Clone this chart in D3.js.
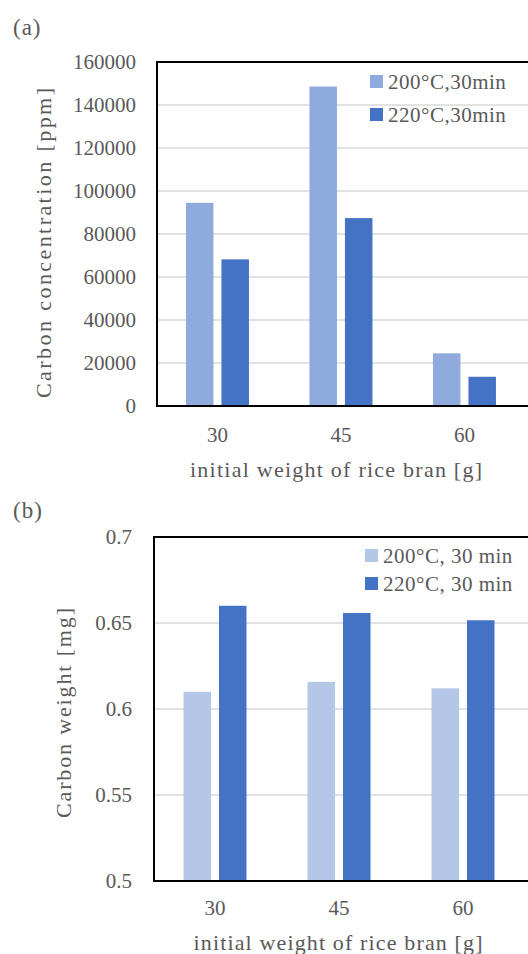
<!DOCTYPE html>
<html>
<head>
<meta charset="utf-8">
<script src="https://cdn.jsdelivr.net/npm/d3@7"></script>
<style>
  body { margin: 0; background: #fff; }
</style>
</head>
<body>
<svg id="chart" width="528" height="954"></svg>
<script>
// data
var weights = ["30", "45", "60"]

var conc_200 = [94500, 148600, 24500]
var conc_220 = [68200, 87400, 13600]
var conc_ticks = [0, 20000, 40000, 60000, 80000, 100000, 120000, 140000, 160000]
var conc_labels = ["200°C,30min", "220°C,30min"]

var mass_200 = [0.610, 0.6158, 0.612]
var mass_220 = [0.660, 0.6558, 0.6516]
var mass_ticks = [0.5, 0.55, 0.6, 0.65, 0.7]
var mass_labels = ["200°C, 30 min", "220°C, 30 min"]

var svg = d3.select("#chart")
var font = "Liberation Serif"
var ink = "#595959"

function add_text(g, size) {
  return g.append("text")
    .attr("font-family", font)
    .attr("font-size", size)
    .attr("fill", ink)
}

function draw_panel(params) {
  g = svg.append("g")

  y = d3.scaleLinear()
    .domain(params.domain)
    .range([params.bottom, params.top])

  x = d3.scaleBand()
    .domain(weights)
    .range([params.band_left, params.band_right])

  // gridlines
  g.selectAll(".grid")
    .data(params.ticks.slice(1))
    .enter().append("line")
    .attr("x1", params.left)
    .attr("x2", 530)
    .attr("y1", d => y(d))
    .attr("y2", d => y(d))
    .attr("stroke", "#d9d9d9")
    .attr("stroke-width", 1.5)

  // bars
  bw = 27.5
  gap = 8
  series = [params.s1, params.s2]
  series.forEach((vals, si) => {
    g.selectAll(".bar" + si)
      .data(vals)
      .enter().append("rect")
      .attr("x", (d, i) => x(weights[i]) + x.bandwidth() / 2 - bw - gap / 2 + si * (bw + gap))
      .attr("width", bw)
      .attr("y", d => y(d))
      .attr("height", d => params.bottom - y(d))
      .attr("fill", params.colors[si])
  })

  // frame (right side runs off the page)
  g.append("path")
    .attr("d", `M530,${params.top}H${params.left}V${params.bottom}H530`)
    .attr("fill", "none")
    .attr("stroke", "#000")
    .attr("stroke-width", 2)

  // y tick labels
  params.ticks.forEach(t => {
    add_text(g, 21)
      .attr("x", params.tick_x)
      .attr("y", y(t) + 7)
      .attr("text-anchor", "end")
      .text(params.fmt(t))
  })

  // x tick labels
  weights.forEach(w => {
    add_text(g, 21)
      .attr("x", x(w) + x.bandwidth() / 2)
      .attr("y", params.xtick_y)
      .attr("text-anchor", "middle")
      .text(w)
  })

  add_text(g, 22)
    .attr("x", params.xtitle_x)
    .attr("y", params.xtitle_y)
    .attr("text-anchor", "middle")
    .attr("textLength", params.xtitle_len)
    .attr("lengthAdjust", "spacing")
    .text("initial weight of rice bran [g]")

  add_text(g, 22)
    .attr("transform", `translate(${params.ytitle_x},${params.ytitle_y}) rotate(-90)`)
    .attr("text-anchor", "middle")
    .attr("textLength", params.ytitle_len)
    .attr("lengthAdjust", "spacing")
    .text(params.ytitle)

  add_text(g, 23)
    .attr("x", 13)
    .attr("y", params.tag_y)
    .attr("letter-spacing", 1)
    .text(params.tag)

  // legend
  params.labels.forEach((lab, i) => {
    ly = params.leg_y + i * params.leg_dy
    g.append("rect")
      .attr("x", params.leg_x)
      .attr("y", ly)
      .attr("width", 13)
      .attr("height", 13)
      .attr("fill", params.colors[i])
    add_text(g, 21)
      .attr("x", params.leg_x + 18)
      .attr("y", ly + 14)
      .attr("letter-spacing", 0.5)
      .text(lab)
  })
}

draw_panel({
  tag: "(a)", tag_y: 35,
  top: 62, bottom: 406, left: 157,
  band_left: 155.7, band_right: 526.2,
  domain: [0, 160000], ticks: conc_ticks, fmt: d => d3.format("d")(d),
  s1: conc_200, s2: conc_220, colors: ["#8faadc", "#4472c4"],
  tick_x: 136, xtick_y: 442,
  xtitle_x: 336, xtitle_y: 477, xtitle_len: 292,
  ytitle: "Carbon concentration [ppm]", ytitle_x: 51, ytitle_y: 243, ytitle_len: 310,
  labels: conc_labels, leg_x: 370, leg_y: 75, leg_dy: 33
})

draw_panel({
  tag: "(b)", tag_y: 518,
  top: 537, bottom: 881, left: 154,
  band_left: 153, band_right: 525,
  domain: [0.5, 0.7], ticks: mass_ticks, fmt: d => d3.format("")(+d.toFixed(2)),
  s1: mass_200, s2: mass_220, colors: ["#b4c7e7", "#4472c4"],
  tick_x: 132, xtick_y: 915,
  xtitle_x: 338, xtitle_y: 950, xtitle_len: 289,
  ytitle: "Carbon weight [mg]", ytitle_x: 71, ytitle_y: 713, ytitle_len: 210,
  labels: mass_labels, leg_x: 365, leg_y: 549, leg_dy: 28
})
</script>
</body>
</html>
